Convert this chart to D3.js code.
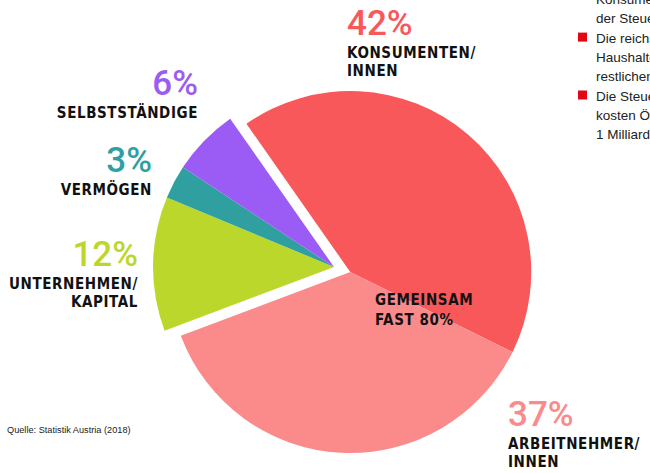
<!DOCTYPE html>
<html>
<head>
<meta charset="utf-8">
<script src="https://cdn.jsdelivr.net/npm/d3@7"></script>
<style>
  body { margin: 0; background: #fff; }
  svg { display: block; }
</style>
</head>
<body>
<div id="chart"></div>
<script>
// Daten
const categories = ["Konsumenten/innen", "Arbeitnehmer/innen", "Unternehmen/Kapital", "Vermögen", "Selbstständige"];
const shares = [42, 37, 12, 3, 6];
const labelLines = [["KONSUMENTEN/", "INNEN"], ["ARBEITNEHMER/", "INNEN"], ["UNTERNEHMEN/", "KAPITAL"], ["VERMÖGEN"], ["SELBSTSTÄNDIGE"]];
const gemeinsam = [true, true, false, false, false];
const centerLines = ["GEMEINSAM", "FAST 80%"];
const sideLines = ["Konsumentinnen und", "der Steuerlast", "Die reichsten", "Haushalte zahlen", "restlichen", "Die Steueroasen", "kosten Österreich", "1 Milliarde"];
const sideBullets = [2, 5];
const source = "Quelle: Statistik Austria (2018)";

const colors = ["#f9585b", "#fb8a8a", "#bcd72b", "#2f9f9f", "#9b5bf5"];

// Layout der Beschriftungen (x, y der Prozentzahl, Ausrichtung)
const labelLayout = [
  {x: 347, y: 35, anchor: "start"},
  {x: 508, y: 426, anchor: "start"},
  {x: 138, y: 266, anchor: "end"},
  {x: 152, y: 172, anchor: "end"},
  {x: 198, y: 95, anchor: "end"}
];

const width = 650, height = 473;
const cx = 334, cy = 267, radius = 181, explode = 17;

const svg = d3.select("#chart").append("svg")
  .attr("width", width)
  .attr("height", height);

const start = -35 * Math.PI / 180;
const pie = d3.pie().sort(null).value(d => d).startAngle(start).endAngle(start + 2 * Math.PI);
const arcs = pie(shares);
const arc = d3.arc().innerRadius(0).outerRadius(radius);

// Gruppe "gemeinsam" wird herausgezogen
const gArcs = arcs.filter((d, i) => gemeinsam[i]);
const mid = (gArcs[0].startAngle + gArcs[gArcs.length - 1].endAngle) / 2;
const dx = Math.sin(mid) * explode, dy = -Math.cos(mid) * explode;

const g = svg.append("g").attr("transform", `translate(${cx}, ${cy})`);

g.selectAll("path.slice")
  .data(arcs)
  .join("path")
  .attr("class", "slice")
  .attr("d", arc)
  .attr("fill", (d, i) => colors[i])
  .attr("transform", (d, i) => gemeinsam[i] ? `translate(${dx}, ${dy})` : null);

// Beschriftungen
const labelFont = "'DejaVu Sans Condensed', 'DejaVu Sans', sans-serif";
labelLayout.forEach((p, i) => {
  svg.append("text")
    .attr("x", p.x).attr("y", p.y)
    .attr("text-anchor", p.anchor)
    .attr("font-family", "Roboto, sans-serif")
    .attr("font-weight", 500)
    .attr("font-size", 35)
    .attr("fill", colors[i])
    .text(shares[i] + "%");
  labelLines[i].forEach((line, j) => {
    svg.append("text")
      .attr("x", p.x).attr("y", p.y + 23 + j * 18)
      .attr("text-anchor", p.anchor)
      .attr("font-family", labelFont)
      .attr("font-weight", "bold")
      .attr("font-size", 15)
      .attr("letter-spacing", 0.6)
      .attr("fill", "#111")
      .text(line);
  });
});

centerLines.forEach((line, j) => {
  svg.append("text")
    .attr("x", 375).attr("y", 305 + j * 20)
    .attr("font-family", labelFont)
    .attr("font-weight", "bold")
    .attr("font-size", 15)
    .attr("letter-spacing", 0.6)
    .attr("fill", "#111")
    .text(line);
});

// Quelle
svg.append("text")
  .attr("x", 7).attr("y", 433)
  .attr("font-family", "'Liberation Sans Narrow', 'Liberation Sans', sans-serif")
  .attr("font-size", 9.2)
  .attr("fill", "#1a1a1a")
  .text(source);

// Randtext rechts oben (im Original am Rand abgeschnitten)
sideLines.forEach((line, j) => {
  svg.append("text")
    .attr("x", 596).attr("y", 4 + j * 19.3)
    .attr("font-family", "'Liberation Sans', Helvetica, sans-serif")
    .attr("font-size", 13.5)
    .attr("fill", "#222")
    .text(line);
});
sideBullets.forEach(j => {
  svg.append("rect")
    .attr("x", 578).attr("y", 4 + j * 19.3 - 10)
    .attr("width", 9).attr("height", 9)
    .attr("fill", "#e30613");
});
</script>
</body>
</html>
